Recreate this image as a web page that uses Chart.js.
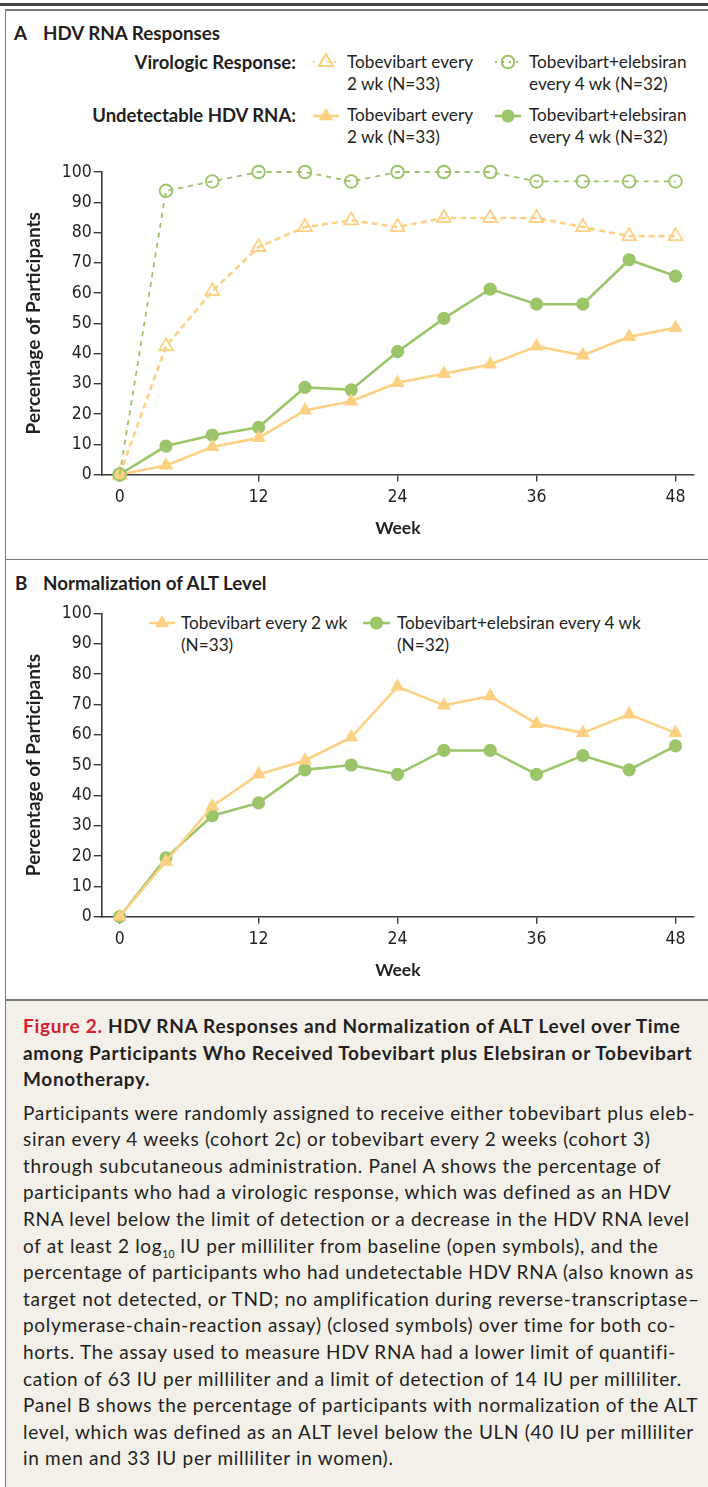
<!DOCTYPE html>
<html>
<head>
<meta charset="utf-8">
<script src="https://cdn.jsdelivr.net/npm/chart.js@4.4.1/dist/chart.umd.min.js"></script>
<style>
  body{margin:0;width:708px;height:1487px;position:relative;background:#fff;overflow:hidden;
    font-family:Lato,'Open Sans',sans-serif;color:#231f20}
  .t{position:absolute;white-space:nowrap;line-height:22px;font-size:17.2px}
  .b{font-weight:bold}
  .lab{font-size:18.5px}
  .head{font-size:18.8px}
  .rule{position:absolute;background:#7a7a7a}
  canvas{position:absolute;left:0}
  #cap{position:absolute;left:6px;top:1001px;width:702px;height:486px;background:#f3f0ea}
  .capline{position:absolute;left:23px;white-space:nowrap;font-size:19px;line-height:26.6px}
  sub{font-size:0.55em;line-height:0;letter-spacing:0}
</style>
</head>
<body>
<div id="cap"></div>
<div class="rule" style="left:0;top:3px;width:708px;height:2.5px;background:#444"></div>
<div class="rule" style="left:4.5px;top:9px;width:704px;height:1.6px"></div>
<div class="rule" style="left:4.5px;top:9px;width:1.8px;height:1478px"></div>
<div class="rule" style="left:4.5px;top:558.5px;width:704px;height:1.8px"></div>
<div class="rule" style="left:4.5px;top:999px;width:704px;height:1.8px"></div>

<!-- panel A header + legend -->
<div class="t b head" style="left:14px;top:22px">A</div>
<div class="t b head" style="left:43px;top:22px">HDV RNA Responses</div>
<div class="t b lab" style="right:412px;top:51px">Virologic Response:</div>
<div class="t b lab" style="right:412px;top:104px">Undetectable HDV RNA:</div>
<div class="t" style="left:347px;top:51px">Tobevibart every<br>2 wk (N=33)</div>
<div class="t" style="left:529px;top:51px">Tobevibart+elebsiran<br>every 4 wk (N=32)</div>
<div class="t" style="left:347px;top:104px">Tobevibart every<br>2 wk (N=33)</div>
<div class="t" style="left:529px;top:104px">Tobevibart+elebsiran<br>every 4 wk (N=32)</div>
<canvas id="legA" width="708" height="150" style="top:0"></canvas>

<!-- panel B header -->
<div class="t b head" style="left:15px;top:572px">B</div>
<div class="t b head" style="left:43px;top:572px">Normalization of ALT Level</div>
<div class="t" style="left:181px;top:612px">Tobevibart every 2 wk<br>(N=33)</div>
<div class="t" style="left:397px;top:612px">Tobevibart+elebsiran every 4 wk<br>(N=32)</div>

<canvas id="chartA" width="708" height="400" style="top:150px"></canvas>
<canvas id="chartB" width="708" height="410" style="top:590px"></canvas>

<!-- caption -->
<div class="capline b" id="capT" style="top:1013px"><span id="refT"><span style="color:#d3202f">Figure 2.</span> HDV RNA Responses and Normalization of ALT Level over Time</span><br>among Participants Who Received Tobevibart plus Elebsiran or Tobevibart<br>Monotherapy.</div>
<div class="capline" id="capB" style="top:1099.7px">Participants were randomly assigned to receive either tobevibart plus eleb-<br>siran every 4 weeks (cohort 2c) or tobevibart every 2 weeks (cohort 3)<br>through subcutaneous administration. Panel A shows the percentage of<br>participants who had a virologic response, which was defined as an HDV<br><span id="refB">RNA level below the limit of detection or a decrease in the HDV RNA level</span><br>of at least 2 log<sub>10</sub> IU per milliliter from baseline (open symbols), and the<br>percentage of participants who had undetectable HDV RNA (also known as<br>target not detected, or TND; no amplification during reverse-transcriptase–<br>polymerase-chain-reaction assay) (closed symbols) over time for both co-<br>horts. The assay used to measure HDV RNA had a lower limit of quantifi-<br>cation of 63 IU per milliliter and a limit of detection of 14 IU per milliliter.<br>Panel B shows the percentage of participants with normalization of the ALT<br>level, which was defined as an ALT level below the ULN (40 IU per milliliter<br>in men and 33 IU per milliliter in women).</div>

<script>
// weeks on study
const weeks = [0, 4, 8, 12, 16, 20, 24, 28, 32, 36, 40, 44, 48];
const weekTicks = [0, 12, 24, 36, 48];

// panel A: virologic response (open symbols)
const vrMono  = [0, 42.4, 60.6, 75.2, 81.8, 84.0, 81.8, 84.8, 84.8, 84.8, 81.8, 78.8, 78.8];
const vrCombo = [0, 93.8, 96.9, 100, 100, 96.9, 100, 100, 100, 96.9, 96.9, 96.9, 96.9];
// panel A: undetectable HDV RNA (closed symbols)
const tndMono  = [0, 3.0, 9.1, 12.1, 21.2, 24.2, 30.3, 33.3, 36.4, 42.4, 39.4, 45.5, 48.5];
const tndCombo = [0, 9.4, 13.0, 15.6, 28.8, 28.0, 40.6, 51.6, 61.3, 56.3, 56.3, 71.0, 65.6];

// panel B: ALT normalization
const altMono  = [0, 18.2, 36.4, 46.9, 51.5, 59.1, 75.8, 69.7, 72.7, 63.6, 60.6, 66.7, 60.6];
const altCombo = [0, 19.4, 33.3, 37.5, 48.4, 50.0, 46.9, 54.8, 54.8, 46.9, 53.1, 48.4, 56.3];

const yellow = '#fdd184';
const green = '#9cc56a';
const axisColor = '#3a3a3a';
const tickFont = {family: "'Liberation Sans Narrow','DejaVu Sans Condensed',sans-serif", size: 17.5};
const titleFont = {family: 'Lato, sans-serif', size: 19, weight: 'bold'};
const weekFont = {family: 'Lato, sans-serif', size: 17.5, weight: 'bold'};

// spread the caption text so its lines end where the printed ones do
function fitSpacing(blockId, refId, target){
  const ref = document.getElementById(refId);
  const w = ref.getBoundingClientRect().width;
  const n = ref.textContent.length;
  document.getElementById(blockId).style.letterSpacing = ((target - w) / n).toFixed(3) + 'px';
}
fitSpacing('capT', 'refT', 658);
fitSpacing('capB', 'refB', 667);

const pts = arr => arr.map((v, i) => ({x: weeks[i], y: v}));

function openTri(data){
  return {data: pts(data), borderColor: yellow, backgroundColor: 'rgba(0,0,0,0)', borderWidth: 2.6,
    borderDash: [6, 4], pointStyle: 'triangle', pointRadius: 8, pointBorderWidth: 1.8,
    pointBorderColor: yellow, pointBackgroundColor: 'rgba(0,0,0,0)', clip: false};
}
function openCirc(data){
  return {data: pts(data), borderColor: green, backgroundColor: 'rgba(0,0,0,0)', borderWidth: 1.8,
    borderDash: [5, 5], pointStyle: 'circle', pointRadius: 6.3, pointBorderWidth: 1.9,
    pointBorderColor: green, pointBackgroundColor: 'rgba(0,0,0,0)', clip: false};
}
function fullTri(data){
  return {data: pts(data), borderColor: yellow, backgroundColor: yellow, borderWidth: 2.6,
    pointStyle: 'triangle', pointRadius: 8.3, pointBorderWidth: 0,
    pointBackgroundColor: yellow, clip: false};
}
function fullCirc(data){
  return {data: pts(data), borderColor: green, backgroundColor: green, borderWidth: 2.6,
    pointStyle: 'circle', pointRadius: 6.6, pointBorderWidth: 0,
    pointBackgroundColor: green, clip: false};
}

function makePanel(id, datasets, g){
  new Chart(document.getElementById(id), {
    type: 'line',
    data: {datasets},
    options: {
      responsive: false, animation: false, events: [],
      layout: {padding: {left: 0, right: 14, top: g.top, bottom: 0}},
      plugins: {legend: {display: false}, tooltip: {enabled: false}},
      scales: {
        x: {
          type: 'linear', min: -1.55, max: 49.6,
          afterBuildTicks: s => { s.ticks = weekTicks.map(v => ({value: v})); },
          afterFit: s => { s.height = g.xh; },
          ticks: {color: '#231f20', font: tickFont, padding: 5, maxRotation: 0},
          grid: {drawOnChartArea: false, drawTicks: true, tickLength: 7, color: axisColor, lineWidth: 1.4},
          border: {color: axisColor, width: 1.6},
          title: {display: true, text: 'Week', color: '#231f20', font: weekFont, padding: {top: 0, bottom: g.wpad}}
        },
        y: {
          min: 0, max: 100,
          afterFit: s => { s.width = 101.7; },
          ticks: {stepSize: 10, color: '#231f20', font: tickFont, padding: 2},
          grid: {drawOnChartArea: false, drawTicks: true, tickLength: 8, color: axisColor, lineWidth: 1.4},
          border: {color: axisColor, width: 1.6},
          title: {display: true, text: 'Percentage of Participants', color: '#231f20', font: titleFont,
            padding: {top: 22.5, bottom: 0}}
        }
      }
    }
  });
}

makePanel('chartA', [openCirc(vrCombo), openTri(vrMono), fullTri(tndMono), fullCirc(tndCombo)],
  {top: 22, xh: 75.5, wpad: 11});
makePanel('chartB', [fullTri(altMono), fullCirc(altCombo)],
  {top: 23.3, xh: 83.3, wpad: 19});

// legend symbols (drawn in the same style as the markers)
function legSym(ctx, it){
  ctx.save();
  ctx.strokeStyle = it.color; ctx.lineWidth = it.lw; ctx.setLineDash(it.dash);
  ctx.beginPath(); ctx.moveTo(it.x0, it.y); ctx.lineTo(it.x1, it.y); ctx.stroke();
  ctx.setLineDash([]);
  ctx.fillStyle = it.filled ? it.color : 'rgba(0,0,0,0)';
  Chart.helpers.drawPoint(ctx, {pointStyle: it.style, radius: it.r, borderWidth: it.filled ? 0 : 1.9, rotation: 0},
    (it.x0 + it.x1) / 2, it.y);
  ctx.restore();
}
function legendPanel(canvas, offY, items){
  const ctx = canvas.getContext('2d');
  items.forEach(it => legSym(ctx, Object.assign({}, it, {y: it.y - offY})));
}
legendPanel(document.getElementById('legA'), 0, [
  {x0: 313, x1: 339, y: 62, color: yellow, dash: [2, 5], lw: 2.2, style: 'triangle', r: 8, filled: false},
  {x0: 495, x1: 521, y: 62, color: green, dash: [2, 5], lw: 2, style: 'circle', r: 6.3, filled: false},
  {x0: 313, x1: 339, y: 116, color: yellow, dash: [], lw: 2.6, style: 'triangle', r: 8.3, filled: true},
  {x0: 495, x1: 521, y: 116, color: green, dash: [], lw: 2.6, style: 'circle', r: 6.6, filled: true}
]);
const legB = document.createElement('canvas');
legB.width = 708; legB.height = 60; legB.style.top = '600px';
document.body.appendChild(legB);
legendPanel(legB, 600, [
  {x0: 149, x1: 175, y: 623, color: yellow, dash: [], lw: 2.6, style: 'triangle', r: 8.3, filled: true},
  {x0: 363, x1: 390, y: 623, color: green, dash: [], lw: 2.6, style: 'circle', r: 6.6, filled: true}
]);
</script>
</body>
</html>
